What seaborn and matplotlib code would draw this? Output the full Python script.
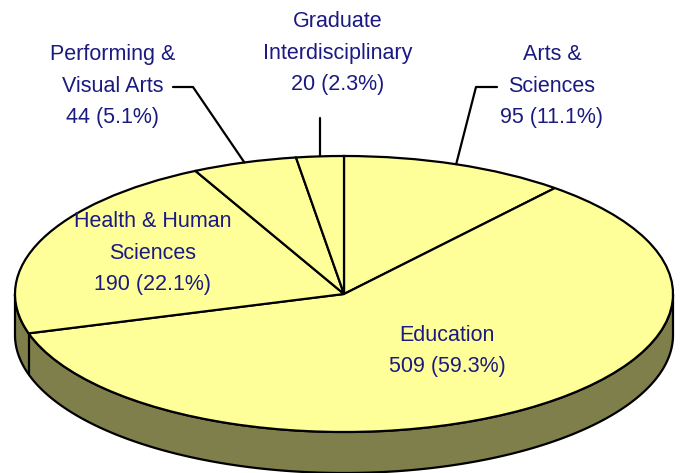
import numpy as np
import matplotlib
matplotlib.use("Agg")
import matplotlib.pyplot as plt
import seaborn as sns

# Enrollment by college
colleges = ["Arts &\nSciences", "Education", "Health & Human\nSciences",
            "Performing &\nVisual Arts", "Graduate\nInterdisciplinary"]
counts = [95, 509, 190, 44, 20]
percents = [11.1, 59.3, 22.1, 5.1, 2.3]

sns.set_style("white")
plt.rcParams["font.family"] = ["Liberation Sans Narrow", "Liberation Sans", "DejaVu Sans"]

W, H = 684, 473
fig = plt.figure(figsize=(W / 100, H / 100), dpi=100)
ax = fig.add_axes([0, 0, 1, 1])

# ellipse geometry in pixels
cx, cy, rx, ry, depth_px = 344, 294, 329, 138, 41
depth = depth_px / ry

top_color = "#FFFF99"
side_color = "#7F7F4C"
text_color = "#1A1A80"
lw = 1.6

# side band of the tilted disc (front half only)
t = np.linspace(np.pi, 2 * np.pi, 300)
xs = np.concatenate([np.cos(t), np.cos(t[::-1])])
ys = np.concatenate([np.sin(t) - depth, np.sin(t[::-1])])
ax.fill(xs, ys, facecolor=side_color, edgecolor="black", linewidth=lw, zorder=1)

# slice boundaries that fall on the visible front side
frac = np.array(counts) / np.sum(counts)
bounds = np.concatenate([[0], np.cumsum(frac)])
for b in bounds[1:-1]:
    ang = np.deg2rad(90 - 360 * b) % (2 * np.pi)
    if np.pi < ang < 2 * np.pi:
        ax.plot([np.cos(ang)] * 2, [np.sin(ang), np.sin(ang) - depth],
                color="black", linewidth=lw, zorder=2)

# top face
wedges, _ = ax.pie(counts, startangle=90, counterclock=False,
                   colors=[top_color] * len(counts),
                   wedgeprops=dict(edgecolor="black", linewidth=lw))
for w in wedges:
    w.set_zorder(3)

ax.set_aspect("auto")
ax.set_xlim(-cx / rx, (W - cx) / rx)
ax.set_ylim(-(H - cy) / ry, cy / ry)
ax.axis("off")


def px(x, y):
    return (x - cx) / rx, (cy - y) / ry


def mid_point(i):
    m = (bounds[i] + bounds[i + 1]) / 2
    a = np.deg2rad(90 - 360 * m)
    return np.cos(a), np.sin(a)


labels = [f"{c}\n{n} ({p}%)" for c, n, p in zip(colleges, counts, percents)]
label_pos = [(552, 86), (447, 351), (153, 253), (113, 86), (338, 53)]
fs = 15.5
for lab, (lx, ly) in zip(labels, label_pos):
    x, y = px(lx, ly)
    ax.text(x, y, lab, ha="center", va="center", fontsize=fs,
            color=text_color, linespacing=1.65, zorder=5)

# leader lines
ax.plot(*zip(px(497, 87), px(476, 87), mid_point(0)), color="black", linewidth=lw, zorder=4)
ax.plot(*zip(px(173, 87), px(193, 87), mid_point(3)), color="black", linewidth=lw, zorder=4)
gx, gy = mid_point(4)
ax.plot([gx, gx], [gy, px(0, 118)[1]], color="black", linewidth=lw, zorder=4)

fig.savefig("out.png", dpi=100)
